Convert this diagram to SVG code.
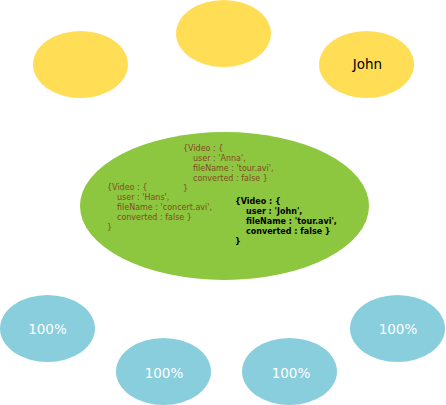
<svg xmlns="http://www.w3.org/2000/svg" width="446" height="405" viewBox="0 0 446 405">
<style>
.y{fill:#ffdd55}
.g{fill:#8dc63f}
.b{fill:#89cedd}
.t{font-family:"DejaVu Sans",sans-serif;font-size:13.5px;text-anchor:middle;dominant-baseline:central}
.w{fill:#ffffff}
.c{font-family:"DejaVu Sans",sans-serif;font-size:8px;fill:#7f4d1f}
.k{font-family:"DejaVu Sans",sans-serif;font-size:8px;font-weight:bold;fill:#000000}
</style>
<g id="connectors"></g>
<g id="y1"><ellipse class="y" cx="80.5" cy="64.5" rx="47.5" ry="33.5"/></g>
<g id="y2"><ellipse class="y" cx="223.5" cy="33.5" rx="47.5" ry="33.5"/></g>
<g id="y3"><ellipse class="y" cx="366.5" cy="64.5" rx="47.5" ry="33.5"/><text class="t" x="367.5" y="64">John</text></g>
<g id="db"><ellipse class="g" cx="224.5" cy="206" rx="144.5" ry="74"/>
<text class="c" x="183" y="151">{Video : {</text>
<text class="c" x="193" y="161">user : 'Anna',</text>
<text class="c" x="193" y="171">fileName : 'tour.avi',</text>
<text class="c" x="193" y="181">converted : false }</text>
<text class="c" x="183" y="191">}</text>
<text class="c" x="107" y="190">{Video : {</text>
<text class="c" x="117" y="200">user : 'Hans',</text>
<text class="c" x="117" y="210">fileName : 'concert.avi',</text>
<text class="c" x="117" y="220">converted : false }</text>
<text class="c" x="107" y="230">}</text>
<text class="k" x="235" y="203.5">{Video : {</text>
<text class="k" x="246" y="213.5">user : 'John',</text>
<text class="k" x="246" y="223.5">fileName : 'tour.avi',</text>
<text class="k" x="246" y="233.5">converted : false }</text>
<text class="k" x="235" y="243.5">}</text>
</g>
<g id="b1"><ellipse class="b" cx="47.5" cy="328.5" rx="47.5" ry="33.5"/><text class="t w" x="47.5" y="329">100%</text></g>
<g id="b2"><ellipse class="b" cx="163.5" cy="371.5" rx="47.5" ry="33.5"/><text class="t w" x="164" y="373">100%</text></g>
<g id="b3"><ellipse class="b" cx="289.5" cy="371.5" rx="47.5" ry="33.5"/><text class="t w" x="291" y="373">100%</text></g>
<g id="b4"><ellipse class="b" cx="397.5" cy="328.5" rx="47.5" ry="33.5"/><text class="t w" x="398" y="329">100%</text></g>
</svg>
